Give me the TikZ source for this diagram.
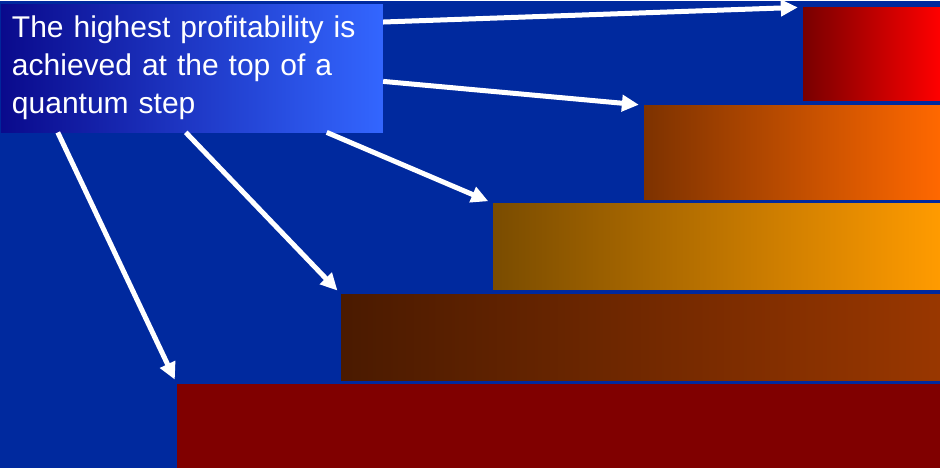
\documentclass[tikz,border=0pt]{standalone}
\usepackage{fontspec}
\setmainfont{Liberation Sans}
\usetikzlibrary{arrows.meta,positioning}
\definecolor{slide}{RGB}{0,41,158}
\definecolor{boxL}{RGB}{10,10,140}
\definecolor{boxR}{RGB}{51,102,255}

\begin{document}
\begin{tikzpicture}[
  x=1pt,y=-1pt,
  >={Triangle[length=17pt,width=16pt]},
  msgbox/.style={draw=none,left color=boxL,right color=boxR,minimum width=382pt,minimum height=128pt,
    inner xsep=11pt,text width=360pt,align=left,text=white,font=\fontsize{30}{38}\selectfont},
  stepbar/.style={anchor=north west,inner sep=0pt,minimum height=#1},
  pointer/.style={->,white,line width=5pt,shorten >=5pt}
]
\fill[slide] (0,0) rectangle (940,467);
\node[msgbox] (msg) at (192,67) {The highest profitability is\\achieved at the top of a\\quantum step};
\node[stepbar=93pt,minimum width=137pt,left color=red!47!black,right color=red] (s5) at (803,6) {};
\node[stepbar=94pt,minimum width=296pt,left color={rgb,255:red,125;green,50;blue,0},right color={rgb,255:red,255;green,104;blue,0}] (s4) at (644,104) {};
\node[stepbar=86pt,minimum width=447pt,left color={rgb,255:red,122;green,76;blue,0},right color={rgb,255:red,255;green,155;blue,0}] (s3) at (493,202) {};
\node[stepbar=86pt,minimum width=599pt,left color={rgb,255:red,74;green,26;blue,0},right color={rgb,255:red,153;green,55;blue,0}] (s2) at (341,293) {};
\node[stepbar=84pt,minimum width=763pt,fill={rgb,255:red,128;green,0;blue,0}] (s1) at (177,383) {};
\draw[pointer] ([yshift=-18pt]msg.north east) -- (s5.north west);
\draw[pointer] ([yshift=51pt]msg.south east) -- (s4.north west);
\draw[pointer] ([xshift=326pt]msg.south west) -- (s3.north west);
\draw[pointer] ([xshift=185pt]msg.south west) -- (s2.north west);
\draw[pointer] ([xshift=57pt]msg.south west) -- (s1.north west);
\end{tikzpicture}
\end{document}
